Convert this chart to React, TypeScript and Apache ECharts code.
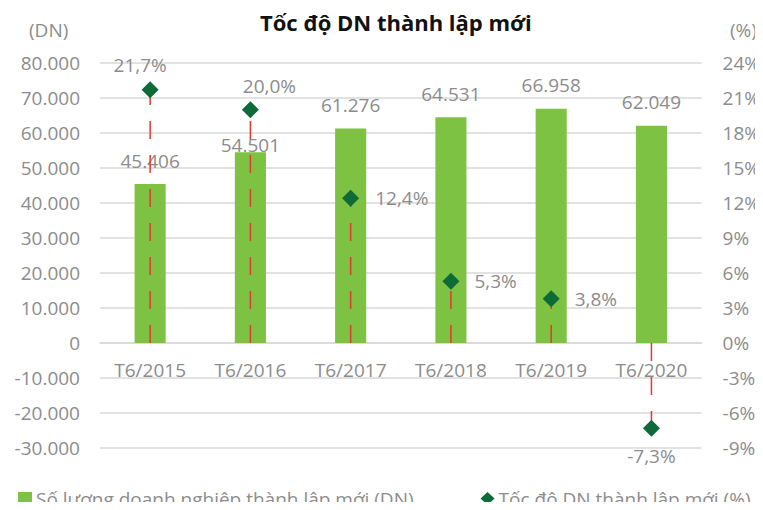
import React, { useEffect, useRef } from "react";
import * as echarts from "echarts";

const categories = ["T6/2015", "T6/2016", "T6/2017", "T6/2018", "T6/2019", "T6/2020"];
const newFirms = [45406, 54501, 61276, 64531, 66958, 62049];
const growthPct = [21.7, 20.0, 12.4, 5.3, 3.8, -7.3];
const leftAxis = { min: -30000, max: 80000, interval: 10000 };
const rightAxis = { min: -9, max: 24, interval: 3 };
const titleText = "Tốc độ DN thành lập mới";
const seriesNames = ["Số lượng doanh nghiệp thành lập mới (DN)", "Tốc độ DN thành lập mới (%)"];

const GREY = "#8C8C8C";
const FONT = "Open Sans";

const fmtThousands = (v: number) => {
  const s = Math.abs(Math.round(v)).toString().replace(/\B(?=(\d{3})+(?!\d))/g, ".");
  return (v < 0 ? "-" : "") + s;
};
const fmtPct = (v: number) => v.toFixed(1).replace(".", ",") + "%";

// label placement per point (style only)
const growthLabelPlace: any[] = [
  { position: "top", distance: 7, offset: [-10, 0] },
  { position: "top", distance: 6, offset: [19, 0] },
  { position: "right", distance: 16, offset: [0, 0] },
  { position: "right", distance: 15, offset: [0, 0] },
  { position: "right", distance: 15, offset: [0, 0] },
  { position: "bottom", distance: 10, offset: [0, 0] },
];
const barLabelOffset: number[][] = [[0, 0], [0, 16], [0, 0], [0, 0], [0, 0], [0, 0]];

export default function App() {
  const ref = useRef<HTMLDivElement>(null);
  useEffect(() => {
    if (!ref.current) return;
    const chart = echarts.init(ref.current, null, { renderer: "svg" });
    const textBase = { fontFamily: FONT, color: GREY, fontSize: 19 };
    chart.setOption({
      animation: false,
      backgroundColor: "#fff",
      title: {
        text: titleText,
        left: 255,
        top: 6,
        textStyle: { fontFamily: FONT, fontWeight: "bold", fontSize: 22, color: "#111" },
      },
      graphic: [
        { type: "text", left: 29, top: 20, style: { text: "(DN)", font: `19px "${FONT}"`, fill: GREY } },
        { type: "text", left: 730, top: 20, style: { text: "(%)", font: `19px "${FONT}"`, fill: GREY } },
      ],
      legend: {
        left: 18,
        top: 489,
        padding: 0,
        itemWidth: 14,
        itemHeight: 13,
        itemGap: 67,
        textStyle: { ...textBase, fontSize: 19, padding: [0, 0, 0, -1] },
        data: [
          { name: seriesNames[0], icon: "rect" },
          { name: seriesNames[1], icon: "diamond" },
        ],
      },
      grid: { left: 100, right: 59, top: 63, bottom: 62 },
      xAxis: {
        type: "category",
        data: categories,
        offset: -105,
        axisLine: { onZero: false, lineStyle: { color: "#D9D9D9", width: 1.5 } },
        axisTick: { show: false },
        axisLabel: { ...textBase, margin: 17 },
      },
      yAxis: [
        {
          type: "value",
          min: leftAxis.min,
          max: leftAxis.max,
          interval: leftAxis.interval,
          axisLine: { show: false },
          axisTick: { show: false },
          splitLine: { lineStyle: { color: "#D9D9D9", width: 1.5 } },
          axisLabel: { ...textBase, margin: 20, formatter: (v: number) => fmtThousands(v) },
        },
        {
          type: "value",
          min: rightAxis.min,
          max: rightAxis.max,
          interval: rightAxis.interval,
          axisLine: { show: false },
          axisTick: { show: false },
          splitLine: { show: false },
          axisLabel: { ...textBase, margin: 21, formatter: (v: number) => `${v}%` },
        },
      ],
      series: [
        {
          name: seriesNames[0],
          type: "bar",
          yAxisIndex: 0,
          barWidth: "31%",
          itemStyle: { color: "#7DC242" },
          z: 2,
          data: newFirms.map((v, i) => ({
            value: v,
            label: { offset: barLabelOffset[i] },
          })),
          label: {
            show: true,
            position: "top",
            distance: 14,
            ...textBase,
            formatter: (p: any) => fmtThousands(p.value),
          },
        },
        {
          type: "custom",
          yAxisIndex: 1,
          silent: true,
          z: 3,
          encode: { x: 0, y: 1 },
          data: growthPct.map((v, i) => [i, v]),
          renderItem: (params: any, api: any) => {
            const idx = api.value(0);
            const v = api.value(1);
            const p0 = api.coord([idx, 0]);
            const p1 = api.coord([idx, v]);
            return {
              type: "line",
              shape: { x1: p0[0], y1: p0[1], x2: p1[0], y2: p1[1] },
              style: { stroke: "#E4392F", lineWidth: 1.5, lineDash: [18, 16] },
            };
          },
        },
        {
          name: seriesNames[1],
          type: "scatter",
          yAxisIndex: 1,
          symbol: "diamond",
          symbolSize: 17,
          itemStyle: { color: "#0E6B38", opacity: 1 },
          z: 4,
          data: growthPct.map((v, i) => ({
            value: v,
            label: { ...growthLabelPlace[i] },
          })),
          label: {
            show: true,
            ...textBase,
            formatter: (p: any) => fmtPct(p.value),
          },
        },
      ],
    });
    return () => chart.dispose();
  }, []);
  return <div ref={ref} style={{ width: 763, height: 510, margin: -8 }} />;
}
